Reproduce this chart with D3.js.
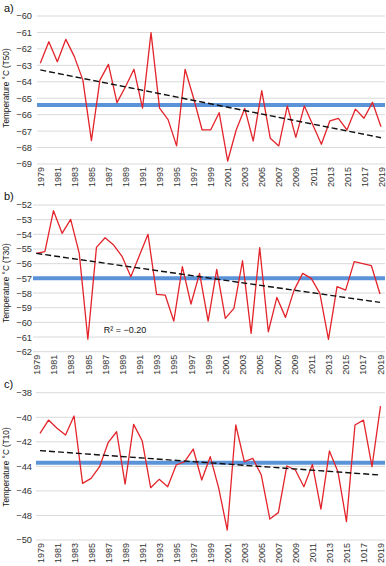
<!DOCTYPE html>
<html><head><meta charset="utf-8">
<script src="https://cdn.jsdelivr.net/npm/d3@7/dist/d3.min.js"></script>
<style>
html,body{margin:0;padding:0;background:#fff;}
svg{display:block;font-family:"Liberation Sans",Arial,sans-serif;}
</style></head>
<body>
<svg id="chart" width="386" height="566"></svg>
<script>
// ---- data ----
const years = [1979,1980,1981,1982,1983,1984,1985,1986,1987,1988,1989,1990,1991,1992,1993,1994,1995,1996,1997,1998,1999,2000,2001,2002,2003,2004,2005,2006,2007,2008,2009,2010,2011,2012,2013,2014,2015,2016,2017,2018,2019];
const t50 = [-62.88,-61.56,-62.78,-61.42,-62.47,-63.9,-67.58,-63.9,-62.94,-65.27,-64.3,-63.24,-65.6,-61.01,-65.6,-66.3,-67.9,-63.24,-65.0,-66.93,-66.93,-65.88,-68.82,-66.93,-65.62,-67.6,-64.54,-67.44,-67.9,-65.47,-67.38,-65.47,-66.63,-67.8,-66.37,-66.22,-66.93,-65.66,-66.22,-65.25,-66.73];
const t30 = [-55.3,-55.18,-52.39,-53.93,-52.98,-55.3,-61.14,-54.89,-54.23,-54.73,-55.52,-56.89,-55.45,-54.0,-58.09,-58.14,-59.91,-56.2,-58.75,-56.66,-59.91,-56.39,-59.73,-59.05,-55.8,-60.75,-54.91,-60.64,-58.3,-59.66,-57.8,-56.66,-57.0,-58.02,-61.16,-57.57,-57.8,-55.86,-56.0,-56.14,-58.07];
const t10 = [-41.31,-40.23,-40.9,-41.45,-39.9,-45.39,-44.98,-44.03,-42.07,-41.18,-45.44,-40.58,-41.91,-45.74,-45.06,-45.66,-43.89,-43.62,-42.59,-45.11,-43.21,-45.79,-49.19,-40.63,-43.62,-43.35,-44.71,-48.29,-47.77,-43.97,-44.3,-45.66,-43.84,-47.48,-42.75,-44.43,-48.51,-40.63,-40.23,-44.03,-39.09];
const means = [-65.41, -57.0, -43.7];
const trendStart = [-63.28, -55.3, -42.72];
const trendEnd = [-67.4, -58.64, -44.71];
const xTickYears = [1979,1981,1983,1985,1987,1989,1991,1993,1995,1997,1999,2001,2003,2005,2007,2009,2011,2013,2015,2017,2019];
const xTickLabels = ["1979","1981","1983","1985","1987","1989","1991","1993","1995","1997","1999","2001","2003","2005","2007","2009","2011","2013","2015","1017","2019"];
const yTicksA = [-60,-61,-62,-63,-64,-65,-66,-67,-68,-69];
const yTicksB = [-52,-53,-54,-55,-56,-57,-58,-59,-60,-61,-62];
const yTicksC = [-38,-40,-42,-44,-46,-48,-50];
const panelLabels = ["a)","b)","c)"];
const axisTitles = ["Temperature °C (T50)","Temperature °C (T30)","Temperature °C (T10)"];
const r2Text = "R² = −0.20";

// ---- layout ----
const panels = [
  {vals:t50, ticks:yTicksA, x0:40.3, x1:381, top:16, bottom:164, gridL:37, labY:12, titleY:88},
  {vals:t30, ticks:yTicksB, x0:36.3, x1:380, top:205, bottom:351.7, gridL:33, labY:200, titleY:283},
  {vals:t10, ticks:yTicksC, x0:40, x1:380.5, top:392.7, bottom:540, gridL:36, labY:388, titleY:467}
];
const svg = d3.select("#chart");
const fmt = d3.format("d");

panels.forEach((p,i)=>{
  const g = svg.append("g");
  const x = d3.scaleLinear().domain([1979,2019]).range([p.x0,p.x1]);
  const y = d3.scaleLinear().domain([p.ticks[0], p.ticks[p.ticks.length-1]]).range([p.top,p.bottom]);

  // gridlines
  g.append("g").selectAll("line").data(p.ticks).join("line")
    .attr("x1",p.gridL).attr("x2",385)
    .attr("y1",d=>y(d)).attr("y2",d=>y(d))
    .attr("stroke","#d9d9d9").attr("stroke-width",1);

  // y axis labels
  const ya = g.append("g").attr("transform","translate(32,0)")
    .call(d3.axisLeft(y).tickValues(p.ticks).tickSize(0).tickPadding(0).tickFormat(fmt));
  ya.select(".domain").remove();
  ya.selectAll("text").attr("font-size",9.3).attr("fill","#333").attr("font-family","Liberation Sans, Arial, sans-serif");

  // x axis labels
  const xa = g.append("g").attr("transform",`translate(0,${p.bottom})`)
    .call(d3.axisBottom(x).tickValues(xTickYears).tickSize(0)
      .tickFormat((d,k)=>xTickLabels[k]));
  xa.select(".domain").remove();
  xa.selectAll("text")
    .attr("transform","rotate(-90)")
    .attr("x",-3).attr("y",0).attr("dy","0.35em")
    .style("text-anchor","end")
    .attr("font-size",9).attr("fill","#333").attr("font-family","Liberation Sans, Arial, sans-serif");

  // mean line
  g.append("line").attr("x1",p.gridL).attr("x2",385)
    .attr("y1",y(means[i])).attr("y2",y(means[i]))
    .attr("stroke","#5b93d8").attr("stroke-width",4);

  // data line
  g.append("path").datum(p.vals)
    .attr("d", d3.line().x((d,k)=>x(years[k])).y(d=>y(d)))
    .attr("fill","none").attr("stroke","#e3242b").attr("stroke-width",1.3).attr("stroke-linejoin","round");

  // trend line
  g.append("line")
    .attr("x1",x(1979)).attr("y1",y(trendStart[i]))
    .attr("x2",x(2019)).attr("y2",y(trendEnd[i]))
    .attr("stroke","#111").attr("stroke-width",1.4).attr("stroke-dasharray","6,3");

  // panel label
  g.append("text").attr("x",4).attr("y",p.labY).attr("font-size",11).attr("fill","#111").text(panelLabels[i]);

  // axis title
  g.append("text").attr("transform",`translate(7,${p.titleY}) rotate(-90)`)
    .attr("text-anchor","middle").attr("dominant-baseline","middle")
    .attr("font-size",8.2).attr("fill","#111").text(axisTitles[i]);

  if(i===1){
    g.append("text").attr("x",125).attr("y",333).attr("text-anchor","middle")
      .attr("font-size",9).attr("fill","#111").text(r2Text);
  }
});
</script>
</body></html>
